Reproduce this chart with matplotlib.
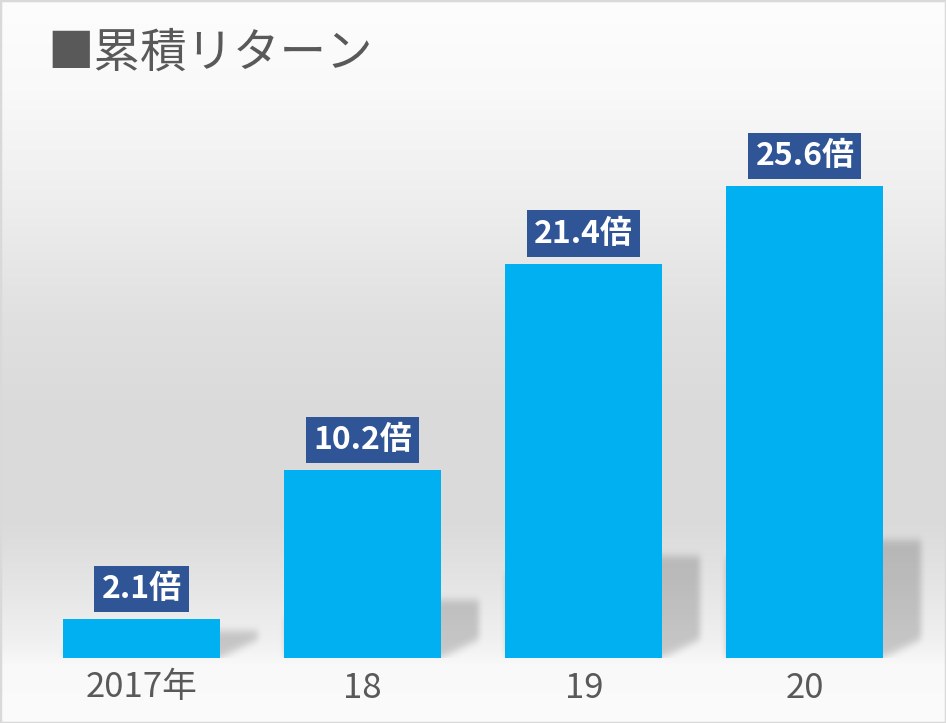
import numpy as np
import matplotlib
matplotlib.use("Agg")
import matplotlib.pyplot as plt
from matplotlib.patches import Rectangle

plt.rcParams['font.family'] = ['Noto Sans CJK JP', 'DejaVu Sans']

# data
years = ["2017年", "18", "19", "20"]
returns = [2.1, 10.2, 21.4, 25.6]

bar_color = '#00B0F0'
label_bg = '#2F5597'
text_gray = '#595959'
bar_w = 0.71

fig = plt.figure(figsize=(9.46, 7.23), dpi=100)

# background gradient (white top -> gray middle -> white bottom)
bg = fig.add_axes([0, 0, 1, 1], zorder=-10)
ys = np.array([0, 90, 200, 320, 400, 520, 580, 640, 665, 723])
gs = np.array([253, 249, 238, 224, 219, 218, 228, 240, 249, 251])
col = np.interp(np.arange(723), ys, gs) / 255.0
grad = np.repeat(col[:, None], 4, axis=1)
bg.imshow(np.dstack([grad, grad, grad]), aspect='auto', extent=[0, 1, 0, 1],
          interpolation='bilinear')
bg.set_axis_off()

ax = fig.add_axes([8.9 / 946, 65 / 723, 928.7 / 946, 553 / 723])
ax.set_facecolor('none')
x0, x1, y0, y1 = -0.6, 3.6, 0, 30
ax.set_xlim(x0, x1)
ax.set_ylim(y0, y1)

# soft oblique shadows, derived from the bars
nx, ny = 929, 553
gx = np.linspace(x0, x1, nx)[None, :]
gy = np.linspace(y0, y1, ny)[:, None]
mask = np.zeros((ny, nx))
dx, dy = 0.17, 1.0
for i, v in enumerate(returns):
    xl, xr, h = i - bar_w / 2, i + bar_w / 2, 0.21 * v
    tlo = np.maximum(np.maximum(0.0, (gx - xr) / dx), (gy - h) / dy)
    thi = np.minimum(np.minimum(1.0, (gx - xl) / dx), gy / dy)
    mask = np.maximum(mask, (thi >= tlo).astype(float))


def blur(a, sigma, axis):
    r = int(3 * sigma)
    k = np.exp(-0.5 * (np.arange(-r, r + 1) / sigma) ** 2)
    k /= k.sum()
    return np.apply_along_axis(lambda m: np.convolve(m, k, mode='same'), axis, a)


mask = blur(blur(mask, 4, 0), 3, 1)
shadow = np.zeros((ny, nx, 4))
shadow[..., 3] = mask * 0.18
ax.imshow(shadow, extent=[x0, x1, y0, y1], origin='lower', aspect='auto',
          zorder=1, interpolation='bilinear')

ax.bar(range(len(returns)), returns, width=bar_w, color=bar_color, zorder=2)

for i, v in enumerate(returns):
    ax.annotate(f"{v}倍", (i, v), xytext=(0, 21.6), textcoords='offset points',
                ha='center', va='center', color='white', fontsize=23,
                fontweight='bold', zorder=3,
                bbox=dict(boxstyle='square,pad=0.22', fc=label_bg, ec='none'))

ax.set_xticks(range(len(years)), years)
ax.set_yticks([])
ax.tick_params(axis='x', length=0, pad=9, labelsize=25, labelcolor=text_gray)
for s in ax.spines.values():
    s.set_visible(False)

fig.text(47 / 946, 1 - 53 / 723, "■累積リターン", fontsize=33.5, color=text_gray,
         ha='left', va='center')

fig.patches.append(Rectangle((0, 0), 1, 1, transform=fig.transFigure,
                             fill=False, ec='#d9d9d9', lw=2.5))

fig.savefig('out.png', dpi=100)
